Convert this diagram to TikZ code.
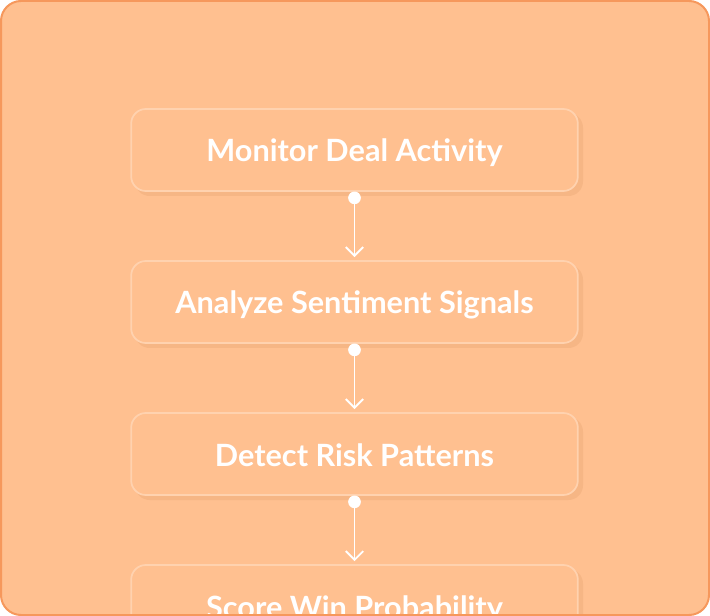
\documentclass[tikz,border=0pt]{standalone}
\usepackage{fontspec}
\setmainfont{Lato}
\usetikzlibrary{arrows.meta}
\definecolor{bgfill}{RGB}{255,192,144}
\definecolor{frameline}{RGB}{246,152,92}
\definecolor{nodeline}{RGB}{255,210,175}
\definecolor{shadowc}{RGB}{236,170,120}
\tikzset{
  px/.style={x=0.75pt,y=-0.75pt},
  stepbox/.style={draw=nodeline,line width=1.3pt,fill=bgfill,rounded corners=11pt,
    minimum width=335pt,minimum height=61.5pt,inner sep=0pt,text=white,
    text height=20pt,text depth=2pt,
    font=\fontsize{23}{26}\selectfont\bfseries},
  boxshadow/.style={fill=shadowc,opacity=0.45,rounded corners=11pt},
  conn/.style={draw=white,line width=1.4pt,-{Straight Barb[length=6.5pt,width=13pt,line width=1.4pt]}},
  dotc/.style={circle,fill=white,minimum size=9.5pt,inner sep=0pt}
}
\begin{document}
\begin{tikzpicture}[px]
\useasboundingbox (0,0) rectangle (710,616);
\begin{scope}
\clip[rounded corners=15pt] (1,1) rectangle (709,615);
\fill[bgfill] (0,0) rectangle (710,616);
\foreach \y in {150,302,454,606} {
  \fill[boxshadow] (135,\y-37) rectangle (583,\y+46);
}
\node[stepbox] (a) at (354.5,150) {Monitor Deal Activity};
\node[stepbox] (b) at (354.5,302) {Analyze Sentiment Signals};
\node[stepbox] (c) at (354.5,454) {Detect Risk Patterns};
\node[stepbox] (d) at (354.5,606) {Score Win Probability};
\foreach \u/\v in {a/b,b/c,c/d} {
  \node[dotc] (\u dot) at ([yshift=-6*0.75pt]\u.south) {};
  \draw[conn] (\u dot.center) -- ([yshift=3*0.75pt]\v.north);
}
\end{scope}
\draw[frameline,line width=1.5pt,rounded corners=15pt] (1,1) rectangle (709,615);
\end{tikzpicture}
\end{document}
